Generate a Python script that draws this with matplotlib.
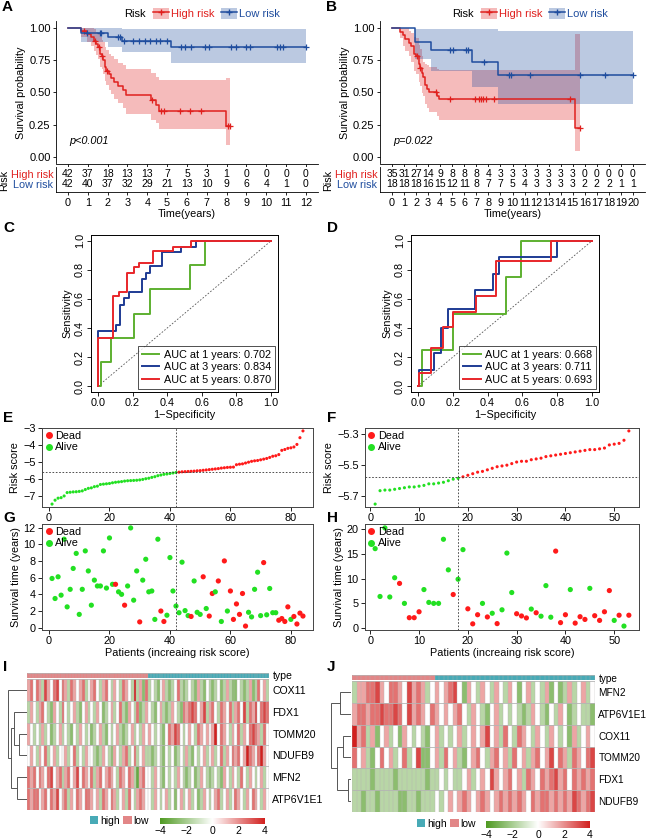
import numpy as np
import matplotlib
matplotlib.use("Agg")
import matplotlib.pyplot as plt
from matplotlib.colors import LinearSegmentedColormap, ListedColormap, Normalize
from matplotlib.patches import Patch
from matplotlib.lines import Line2D

plt.rcParams['font.family'] = ['Liberation Sans', 'DejaVu Sans']
plt.rcParams['font.size'] = 7

# ---------------- data: KM curves (A = training, B = validation) ----------------
hiA_t = [0, 0.65, 0.95, 1.15, 1.3, 1.4, 1.5, 1.6, 1.7, 1.78, 1.85, 1.9, 2.05, 2.15, 2.3, 2.5, 2.75, 2.95, 4.2, 4.45, 4.6, 7.95]
hiA_s = [1, .976, .952, .927, .90, .875, .85, .80, .78, .75, .70, .67, .64, .61, .58, .55, .52, .48, .44, .40, .36, .24]
hiA_up = [1, 1, 1, 1, .99, .97, .96, .93, .91, .89, .85, .83, .80, .78, .76, .73, .71, .68, .65, .62, .60, .61]
hiA_lo = [1, .93, .89, .86, .82, .79, .76, .70, .68, .64, .59, .56, .52, .49, .45, .42, .38, .33, .29, .26, .22, .09]
hiA_end = 8.15
hiA_cens = [0.8, 1.35, 1.55, 1.72, 1.95, 4.25, 4.7, 4.82, 5.63, 6.17, 6.72, 8.05, 8.15]

loA_t = [0, 0.67, 2.02, 2.7, 5.2]
loA_s = [1, .96, .93, .90, .85]
loA_up = [1, 1.0, 1.0, .995, .99]
loA_lo = [1, .89, .85, .81, .73]
loA_end = 12.0
loA_cens = [0.96, 1.6, 1.68, 2.53, 2.64, 2.81, 3.28, 3.59, 3.87, 4.12, 4.43, 4.66, 4.97, 5.72,
            5.89, 6.18, 6.9, 7.12, 8.2, 8.47, 9.0, 9.2, 10.55, 10.69, 10.86, 12.0]

hiB_t = [0, 0.7, 0.88, 1.1, 1.38, 1.58, 1.8, 2.0, 2.2, 2.35, 2.5, 2.6, 2.75, 2.9, 3.1, 3.7, 3.9, 15.2]
hiB_s = [1, .971, .943, .914, .886, .857, .80, .78, .72, .69, .65, .62, .56, .53, .50, .475, .45, .225]
hiB_up = [1, 1, 1, 1, .98, .96, .93, .92, .87, .84, .78, .74, .72, .71, .70, .68, .675, .95]
hiB_lo = [1, .92, .86, .82, .78, .74, .67, .64, .58, .55, .50, .47, .41, .38, .35, .32, .29, .05]
hiB_end = 15.6
hiB_cens = [2.07, 2.35, 3.62, 4.79, 6.92, 7.19, 7.39, 7.55, 7.77, 8.44, 14.74, 15.57]

loB_t = [0, 1.94, 3.2, 6.64, 8.77]
loB_s = [1, .889, .833, .74, .635]
loB_up = [1, .99, .99, .99, .98]
loB_lo = [1, .76, .67, .54, .41]
loB_end = 20.0
loB_cens = [4.8, 5.07, 6.17, 6.3, 7.6, 9.68, 9.88, 11.48, 15.63, 17.7, 20.0]

riskA_high = [42, 37, 18, 13, 13, 7, 5, 3, 1, 0, 0, 0, 0]
riskA_low = [42, 40, 37, 32, 29, 21, 13, 10, 9, 6, 4, 1, 0]
riskB_high = [35, 31, 27, 14, 9, 8, 8, 8, 4, 3, 3, 3, 3, 3, 3, 3, 0, 0, 0, 0, 0]
riskB_low = [18, 18, 18, 16, 15, 12, 11, 8, 7, 7, 5, 4, 3, 3, 3, 3, 2, 2, 2, 1, 1]

# ---------------- data: time-dependent ROC ----------------
rocC = {
    1: ([0, 0.02, 0.075, 0.21, 0.30, 0.53, 0.62, 1.0], [0, 0.167, 0.333, 0.5, 0.667, 0.833, 1.0, 1.0]),
    3: ([0, 0, 0.104, 0.128, 0.15, 0.18, 0.255, 0.28, 0.30, 0.37, 0.48, 0.566, 1.0],
        [0, 0.38, 0.42, 0.56, 0.61, 0.65, 0.74, 0.78, 0.83, 0.92, 0.96, 1.0, 1.0]),
    5: ([0, 0, 0.085, 0.123, 0.166, 0.21, 0.24, 0.32, 0.434, 0.54, 1.0],
        [0, 0.33, 0.62, 0.65, 0.78, 0.82, 0.85, 0.93, 0.96, 1.0, 1.0]),
}
aucC = {1: 0.702, 3: 0.834, 5: 0.870}
rocD = {
    1: ([0, 0.023, 0.20, 0.507, 0.59, 1.0], [0, 0.25, 0.5, 0.75, 1.0, 1.0]),
    3: ([0, 0.004, 0.09, 0.133, 0.17, 0.33, 0.43, 0.463, 0.797, 1.0],
        [0, 0.11, 0.23, 0.40, 0.53, 0.66, 0.77, 0.89, 1.0, 1.0]),
    5: ([0, 0.004, 0.076, 0.146, 0.20, 0.336, 0.45, 0.763, 1.0],
        [0, 0.09, 0.26, 0.41, 0.51, 0.62, 0.86, 1.0, 1.0]),
}
aucD = {1: 0.668, 3: 0.711, 5: 0.693}

# ---------------- data: risk score / survival status ----------------
scoreE = [-7.48, -7.25, -7.13, -7.10, -7.00, -6.80, -6.78, -6.76, -6.75, -6.73, -6.70, -6.62,
          -6.55, -6.52, -6.45, -6.42, -6.32, -6.30, -6.28, -6.26, -6.22, -6.19, -6.17, -6.15,
          -6.12, -6.10, -6.09, -6.08, -6.07, -6.05, -6.02, -5.98, -5.95, -5.90, -5.86, -5.80,
          -5.76, -5.72, -5.70, -5.67, -5.64, -5.61, -5.59, -5.57, -5.56, -5.55, -5.54, -5.53,
          -5.51, -5.50, -5.48, -5.46, -5.44, -5.42, -5.40, -5.38, -5.35, -5.33, -5.31, -5.30,
          -5.29, -5.15, -5.12, -5.10, -5.05, -5.00, -4.95, -4.92, -4.90, -4.86, -4.82, -4.78,
          -4.72, -4.65, -4.62, -4.55, -4.30, -4.25, -4.18, -4.15, -4.10, -3.95, -3.55, -3.15]
cutE = -5.59
nlowE = 42
timeG = [5.9, 3.5, 6.1, 3.9, 10.6, 2.5, 4.6, 7.1, 8.9, 1.6, 4.6, 9.2, 6.8, 2.7, 5.7, 5.0, 5.0,
         9.2, 4.75, 10.75, 5.2, 5.2, 4.3, 4.0, 2.7, 5.0, 11.95, 3.3, 6.8, 0.7, 5.7, 8.2, 4.3,
         4.4, 1.0, 10.6, 2.0, 0.75, 1.5, 8.4, 4.4, 2.6, 1.8, 7.85, 2.05, 1.45, 1.35, 5.6, 1.85,
         1.6, 6.1, 2.3, 1.4, 4.1, 4.3, 5.6, 0.75, 8.0, 2.0, 4.4, 1.0, 2.85, 1.6, 4.1, 0.2, 1.85,
         1.3, 4.6, 6.65, 1.45, 7.8, 1.55, 4.7, 1.8, 1.8, 0.9, 1.1, 0.75, 2.5, 1.0, 1.35, 0.45,
         1.75, 1.4]
deadG = "000000000000000000000100100001000000110000000010001011010101111110000010000111101111"

scoreF = [-5.75, -5.664, -5.66, -5.66, -5.655, -5.65, -5.645, -5.64, -5.64, -5.635, -5.63,
          -5.62, -5.62, -5.615, -5.61, -5.60, -5.59, -5.585, -5.575, -5.565, -5.555, -5.545,
          -5.54, -5.53, -5.52, -5.51, -5.505, -5.50, -5.49, -5.48, -5.475, -5.475, -5.465,
          -5.46, -5.455, -5.445, -5.44, -5.435, -5.43, -5.425, -5.42, -5.415, -5.41, -5.405,
          -5.40, -5.40, -5.395, -5.39, -5.37, -5.365, -5.36, -5.34, -5.28]
cutF = -5.578
nlowF = 18
timeH = [16.1, 6.4, 20.3, 6.3, 10.2, 9.05, 5.0, 2.1, 2.1, 3.3, 7.8, 5.2, 5.0, 5.0, 18.0, 11.8,
         6.8, 9.9, 15.9, 3.9, 0.85, 2.7, 5.0, 2.25, 3.0, 0.9, 3.7, 15.2, 7.2, 2.9, 2.45, 2.05,
         3.85, 3.1, 2.4, 8.6, 2.2, 15.6, 1.1, 2.7, 7.8, 1.0, 2.3, 1.75, 8.05, 2.5, 1.55, 3.3,
         7.6, 1.55, 2.6, 0.4, 2.6]
deadH = "00000101110000001001110101000111010001110111011110101"

# ---------------- data: heatmaps (one code per cell, see LEVELS) ----------------
LEVELS = {'0': -4.0, '1': -3.4, '2': -2.6, '3': -1.6, '4': 0.0,
          '5': 1.6, '6': 2.5, '7': 3.3, '8': 4.0}
genesI = ["COX11", "FDX1", "TOMM20", "NDUFB9", "MFN2", "ATP6V1E1"]
exprI = [
    "5646537 5467465 3654563 4564356 4354365 4383526 3432453 2346323 4325324 3234235 3224323 5236453",
    "3543564 3254364 3453245 3435423 4534632 5436235 4324532 3543265 6764573 5643654 6356473 6574676",
    "5434353 4234534 3243543 4234532 4345323 4534354 5434324 6576434 5436545 4584654 3546354 6765364",
    "4543546 3453445 3463435 4432354 3254356 3463453 3234324 3423435 3243453 4534635 4656458 6546854",
    "6564654 6745635 6457465 4635645 6543654 6531564 4354324 3435432 3423543 2343254 3543643 5434534",
    "6566456 4657456 3546546 6545365 4653453 6435654 4354345 3424534 5342354 3456345 3465435 4654354",
]
groupI = [0] * 42 + [1] * 42
treeI = [(2, 3, 0.45), (1, 6, 0.7), (4, 5, 0.55), (7, 8, 0.85), (0, 9, 1.0)]

genesJ = ["MFN2", "ATP6V1E1", "COX11", "TOMM20", "FDX1", "NDUFB9"]
exprJ = [
    "3556675 4665475 6534545 6742543 5435435 4245343 5242353 4534",
    "5665667 6676475 6546545 4564354 3245343 4323543 2435423 4332",
    "8563524 5342543 4324534 3453454 5745364 3654354 3543425 3454",
    "6453246 4534634 7224536 4532456 4356453 6453564 5746536 5467",
    "3333233 3323333 3323343 4334534 5475456 4536546 5675646 5656",
    "3323323 3332233 2333434 5456545 6545656 5654656 6565657 6567",
]
groupJ = [0] * 18 + [1] * 35
treeJ = [(0, 1, 0.58), (4, 5, 0.17), (2, 3, 0.42), (8, 7, 0.7), (6, 9, 1.0)]

# ---------------- style ----------------
RED, BLUE = "#E0201E", "#1F4D9E"
ROC_COL = {1: "#5DB030", 3: "#1E3B94", 5: "#E8262A"}
DOT_RED, DOT_GREEN = "#FF1A1A", "#22E022"
TEAL, SALMON = "#48AAB6", "#E28687"
GRID = "#B4B4B4"
hm_cmap = LinearSegmentedColormap.from_list("gwr", ["#4F9A22", "#FFFFFF", "#D2201E"])

W, H = 648, 839
fig = plt.figure(figsize=(W / 100, H / 100), dpi=100)


def box(l, t, r, b):
    return fig.add_axes([l / W, 1 - b / H, (r - l) / W, (b - t) / H])


def ftext(x, y, s, **kw):
    fig.text(x / W, 1 - y / H, s, **kw)


def step_at(ts, ss, x):
    idx = np.searchsorted(ts, x, side='right') - 1
    return np.asarray(ss)[idx]


def km_curve(ax, t, s, up, lo, t_end, cens, col):
    tt = list(t) + [t_end]
    ax.fill_between(tt, list(lo) + [lo[-1]], list(up) + [up[-1]], step='post',
                    color=col, alpha=0.3, lw=0)
    ax.step(tt, list(s) + [s[-1]], where='post', color=col, lw=1.1)
    ax.plot(cens, step_at(t, s, np.asarray(cens)), ls='none', marker='+', ms=5,
            mew=0.9, color=col)


def km_panel(x0, zero_px, per_year, tmax, high, low, risk_h, risk_l, pval, leg_x):
    xl = (-0.05 * tmax, 1.05 * tmax)
    left = zero_px + xl[0] * per_year
    right = zero_px + xl[1] * per_year
    ax = box(left, 21.5, right, 163.5)
    km_curve(ax, *high, RED)
    km_curve(ax, *low, BLUE)
    ax.set_xlim(xl)
    ax.set_ylim(-0.05, 1.05)
    ax.set_yticks([0, 0.25, 0.5, 0.75, 1.0])
    ax.set_yticklabels(["0.00", "0.25", "0.50", "0.75", "1.00"], fontsize=8)
    ax.set_xticks(range(0, tmax + 1))
    ax.set_xticklabels([])
    ax.set_ylabel("Survival probability", fontsize=7.8, labelpad=2)
    for sp in ("top", "right"):
        ax.spines[sp].set_visible(False)
    ax.tick_params(length=2.5, width=0.6, pad=1.5)
    for sp in ("left", "bottom"):
        ax.spines[sp].set_linewidth(0.6)
    ax.text(0.05, 0.135, pval, transform=ax.transAxes, fontsize=7.8, style='italic')

    tb = box(left, 167, right, 192)
    tb.set_xlim(xl)
    tb.set_ylim(0, 1)
    xs = np.arange(tmax + 1)
    for v, x in zip(risk_h, xs):
        tb.text(x, 0.72, str(v), ha='center', va='center', fontsize=7.5)
    for v, x in zip(risk_l, xs):
        tb.text(x, 0.32, str(v), ha='center', va='center', fontsize=7.5)
    tb.set_yticks([0.72, 0.32])
    tb.set_yticklabels(["High risk", "Low risk"], fontsize=7.8)
    tb.get_yticklabels()[0].set_color(RED)
    tb.get_yticklabels()[1].set_color(BLUE)
    tb.set_xticks(xs)
    tb.set_xticklabels([str(x) for x in xs], fontsize=7.8)
    tb.tick_params(length=2.5, width=0.6, pad=1.5)
    tb.tick_params(axis='y', length=0, pad=2)
    for sp in ("top", "right"):
        tb.spines[sp].set_visible(False)
    for sp in ("left", "bottom"):
        tb.spines[sp].set_linewidth(0.6)
    tb.set_xlabel("Time(years)", fontsize=7.8, labelpad=1)
    ftext(x0 + 4, 180, "Risk", rotation=90, ha='center', va='center', fontsize=7.8)

    ftext(leg_x, 14, "Risk", ha='left', va='center', fontsize=8)
    handles = [(Patch(facecolor=RED, alpha=0.3, lw=0), Line2D([], [], color=RED, marker='+', ms=5, lw=1.1)),
               (Patch(facecolor=BLUE, alpha=0.3, lw=0), Line2D([], [], color=BLUE, marker='+', ms=5, lw=1.1))]
    lg = fig.legend(handles, ["High risk", "Low risk"], ncol=2, frameon=False,
                    loc='center left', bbox_to_anchor=((leg_x + 29) / W, 1 - 13.5 / H),
                    fontsize=8, handlelength=1.4, handleheight=1.1, handletextpad=0.2,
                    columnspacing=0.6, borderpad=0, borderaxespad=0)
    lg.get_texts()[0].set_color(RED)
    lg.get_texts()[1].set_color(BLUE)


km_panel(0, 68, 19.83, 12, (hiA_t, hiA_s, hiA_up, hiA_lo, hiA_end, hiA_cens),
         (loA_t, loA_s, loA_up, loA_lo, loA_end, loA_cens), riskA_high, riskA_low, "p<0.001", 124)
km_panel(324, 392, 12.05, 20, (hiB_t, hiB_s, hiB_up, hiB_lo, hiB_end, hiB_cens),
         (loB_t, loB_s, loB_up, loB_lo, loB_end, loB_cens), riskB_high, riskB_low, "p=0.022", 452)


def roc_panel(l, r, roc, auc):
    ax = box(l, 235, r, 392)
    ax.plot([0, 1], [0, 1], ls=(0, (2, 2)), color='#555555', lw=0.6)
    for yr in (1, 3, 5):
        fx, ty = roc[yr]
        ax.step(fx, ty, where='post', color=ROC_COL[yr], lw=1.4,
                label=f"AUC at {yr} years: {auc[yr]:.3f}")
    ax.set_xlim(-0.04, 1.04)
    ax.set_ylim(-0.04, 1.04)
    ticks = [0, 0.2, 0.4, 0.6, 0.8, 1.0]
    ax.set_xticks(ticks)
    ax.set_yticks(ticks)
    ax.set_xticklabels([f"{t:.1f}" for t in ticks], fontsize=7.8)
    ax.set_yticklabels([f"{t:.1f}" for t in ticks], fontsize=7.8, rotation=90, va='center')
    ax.tick_params(length=3, width=0.6, pad=1.5)
    for sp in ax.spines.values():
        sp.set_linewidth(0.7)
    ax.set_xlabel("1\u2212Specificity", fontsize=7.8, labelpad=1)
    ax.set_ylabel("Sensitivity", fontsize=7.8, labelpad=2)
    lg = ax.legend(loc='lower right', fontsize=7.8, frameon=True, fancybox=False,
                   handlelength=1.6, handletextpad=0.4, borderpad=0.35, labelspacing=0.25,
                   borderaxespad=0.3)
    lg.get_frame().set_edgecolor('black')
    lg.get_frame().set_linewidth(0.6)


roc_panel(91, 278, rocC, aucC)
roc_panel(411, 599, rocD, aucD)


def r_range(v):
    lo_, hi_ = min(v), max(v)
    d = (hi_ - lo_) * 0.04
    return lo_ - d, hi_ + d


def style_base(ax):
    for sp in ax.spines.values():
        sp.set_linewidth(0.7)
        sp.set_color('#444444')
    ax.tick_params(length=3, width=0.6, pad=1.5, labelsize=7.8)


def legend_dots(ax):
    h = [Line2D([], [], ls='none', marker='o', ms=4, color=DOT_RED),
         Line2D([], [], ls='none', marker='o', ms=4, color=DOT_GREEN)]
    ax.legend(h, ["Dead", "Alive"], loc='upper left', frameon=False, fontsize=7.8,
              handlelength=0.6, handletextpad=0.3, borderaxespad=0.1, labelspacing=0.1,
              borderpad=0.2)


def score_panel(l, r, score, cut, nlow, yticks, ylabs):
    n = len(score)
    idx = np.arange(1, n + 1)
    ax = box(l, 428, r, 507)
    cols = [DOT_GREEN] * nlow + [DOT_RED] * (n - nlow)
    ax.scatter(idx, score, s=5, c=cols, lw=0)
    ax.axhline(cut, ls=(0, (2, 2)), color='#333333', lw=0.6)
    ax.axvline(nlow, ls=(0, (2, 2)), color='#333333', lw=0.6)
    ax.set_xlim(r_range(idx))
    ax.set_ylim(r_range(score))
    ax.set_yticks(yticks)
    ax.set_yticklabels(ylabs)
    ax.set_ylabel("Risk score", fontsize=7.8, labelpad=2)
    style_base(ax)
    legend_dots(ax)
    return ax


def time_panel(l, r, times, dead, nlow, yticks, xt):
    n = len(times)
    idx = np.arange(1, n + 1)
    ax = box(l, 524, r, 630)
    cols = [DOT_RED if d == '1' else DOT_GREEN for d in dead]
    ax.scatter(idx, times, s=14, c=cols, lw=0)
    ax.axvline(nlow, ls=(0, (2, 2)), color='#333333', lw=0.6)
    ax.set_xlim(r_range(idx))
    ax.set_ylim(r_range(times))
    ax.set_yticks(yticks)
    ax.set_xticks(xt)
    ax.set_ylabel("Survival time (years)", fontsize=7.8, labelpad=2)
    ax.set_xlabel("Patients (increaing risk score)", fontsize=7.8, labelpad=1)
    style_base(ax)
    legend_dots(ax)
    return ax


axE = score_panel(42, 313, scoreE, cutE, nlowE, [-7, -6, -5, -4, -3], ["\u22127", "\u22126", "\u22125", "\u22124", "\u22123"])
axE.set_xticks([0, 20, 40, 60, 80])
axF = score_panel(365, 639, scoreF, cutF, nlowF, [-5.7, -5.5, -5.3], ["\u22125.7", "\u22125.5", "\u22125.3"])
axF.set_xticks([0, 10, 20, 30, 40, 50])
time_panel(42, 313, timeG, deadG, nlowE, [0, 2, 4, 6, 8, 10, 12], [0, 20, 40, 60, 80])
time_panel(365, 639, timeH, deadH, nlowF, [0, 5, 10, 15, 20], [0, 10, 20, 30, 40, 50])


def draw_dendro(ax, merges, nleaf):
    pos = {i: i + 0.5 for i in range(nleaf)}
    hgt = {i: 0.0 for i in range(nleaf)}
    for k, (a, b, h) in enumerate(merges):
        ax.plot([hgt[a], h, h, hgt[b]], [pos[a], pos[a], pos[b], pos[b]],
                color='#555555', lw=0.7, solid_joinstyle='miter')
        pos[nleaf + k] = (pos[a] + pos[b]) / 2
        hgt[nleaf + k] = h
    ax.set_xlim(1.02, 0)
    ax.set_ylim(nleaf, 0)
    ax.axis('off')


def cell_grid(ax, nr, nc, lw_v, lw_h):
    ax.vlines(np.arange(nc + 1), 0, nr, color=GRID, lw=lw_v)
    ax.hlines(np.arange(nr + 1), 0, nc, color=GRID, lw=lw_h)


def heatmap_panel(dl, dr, hl, hr, at, ab, ht, hb, genes, expr, group, tree, leg_x,
                  cb_l, cb_r, cb_t, cb_b, lab_fs):
    vals = np.array([[LEVELS[c] for c in row.replace(" ", "")] for row in expr])
    nr, nc = vals.shape
    norm = Normalize(-4, 4)

    axa = box(hl, at, hr, ab)
    axa.pcolormesh(np.array(group)[None, :], cmap=ListedColormap([SALMON, TEAL]),
                   edgecolors='none', antialiased=False)
    cell_grid(axa, 1, nc, 0.25, 0.5)
    axa.set_xlim(0, nc)
    axa.set_ylim(0, 1)
    axa.set_xticks([])
    axa.yaxis.tick_right()
    axa.set_yticks([0.5])
    axa.set_yticklabels(["type"], fontsize=lab_fs)
    axa.tick_params(length=0, pad=2.5)
    for sp in axa.spines.values():
        sp.set_visible(False)

    axh = box(hl, ht, hr, hb)
    axh.pcolormesh(vals, cmap=hm_cmap, norm=norm, edgecolors='none', antialiased=False)
    cell_grid(axh, nr, nc, 0.3, 0.6)
    axh.set_xlim(0, nc)
    axh.set_ylim(nr, 0)
    axh.set_xticks([])
    axh.yaxis.tick_right()
    axh.set_yticks(np.arange(nr) + 0.5)
    axh.set_yticklabels(genes, fontsize=lab_fs)
    axh.tick_params(length=0, pad=2.5)
    for sp in axh.spines.values():
        sp.set_visible(False)

    axd = box(dl, ht, dr, hb)
    draw_dendro(axd, tree, nr)

    axc = box(cb_l, cb_t, cb_r, cb_b)
    axc.imshow(np.linspace(-4, 4, 256)[None, :], aspect='auto', cmap=hm_cmap, norm=norm,
               extent=(-4, 4, 0, 1))
    axc.set_xticks([-4, -2, 0, 2, 4])
    axc.set_xticklabels(["\u22124", "\u22122", "0", "2", "4"], fontsize=7.5)
    axc.set_yticks([])
    axc.tick_params(length=0, pad=1.5)
    for sp in axc.spines.values():
        sp.set_visible(False)

    hs = [Patch(facecolor=TEAL, lw=0), Patch(facecolor=SALMON, lw=0)]
    fig.legend(hs, ["high", "low"], ncol=2, frameon=False, loc='center left',
               bbox_to_anchor=(leg_x / W, 1 - (cb_t + 3) / H), fontsize=7.5,
               handlelength=0.8, handleheight=0.8, handletextpad=0.2, columnspacing=0.3,
               borderpad=0, borderaxespad=0)


heatmap_panel(8, 27, 27, 269, 672.5, 677.5, 679, 810, genesI, exprI, groupI, treeI,
              90, 160, 265, 818, 824, 7.6)
heatmap_panel(331, 351, 352, 595, 675, 680, 681, 812, genesJ, exprJ, groupJ, treeJ,
              417, 486, 590, 821, 828, 7.2)

for lab, x, y in [("A", 2, 7), ("B", 326, 7), ("C", 3, 228), ("D", 327, 228),
                  ("E", 3, 418), ("F", 327, 418), ("G", 3, 518), ("H", 327, 518),
                  ("I", 3, 667), ("J", 327, 667)]:
    ftext(x, y, lab, fontsize=11, fontweight='bold', ha='left', va='center')

fig.savefig("out.png", dpi=100)
